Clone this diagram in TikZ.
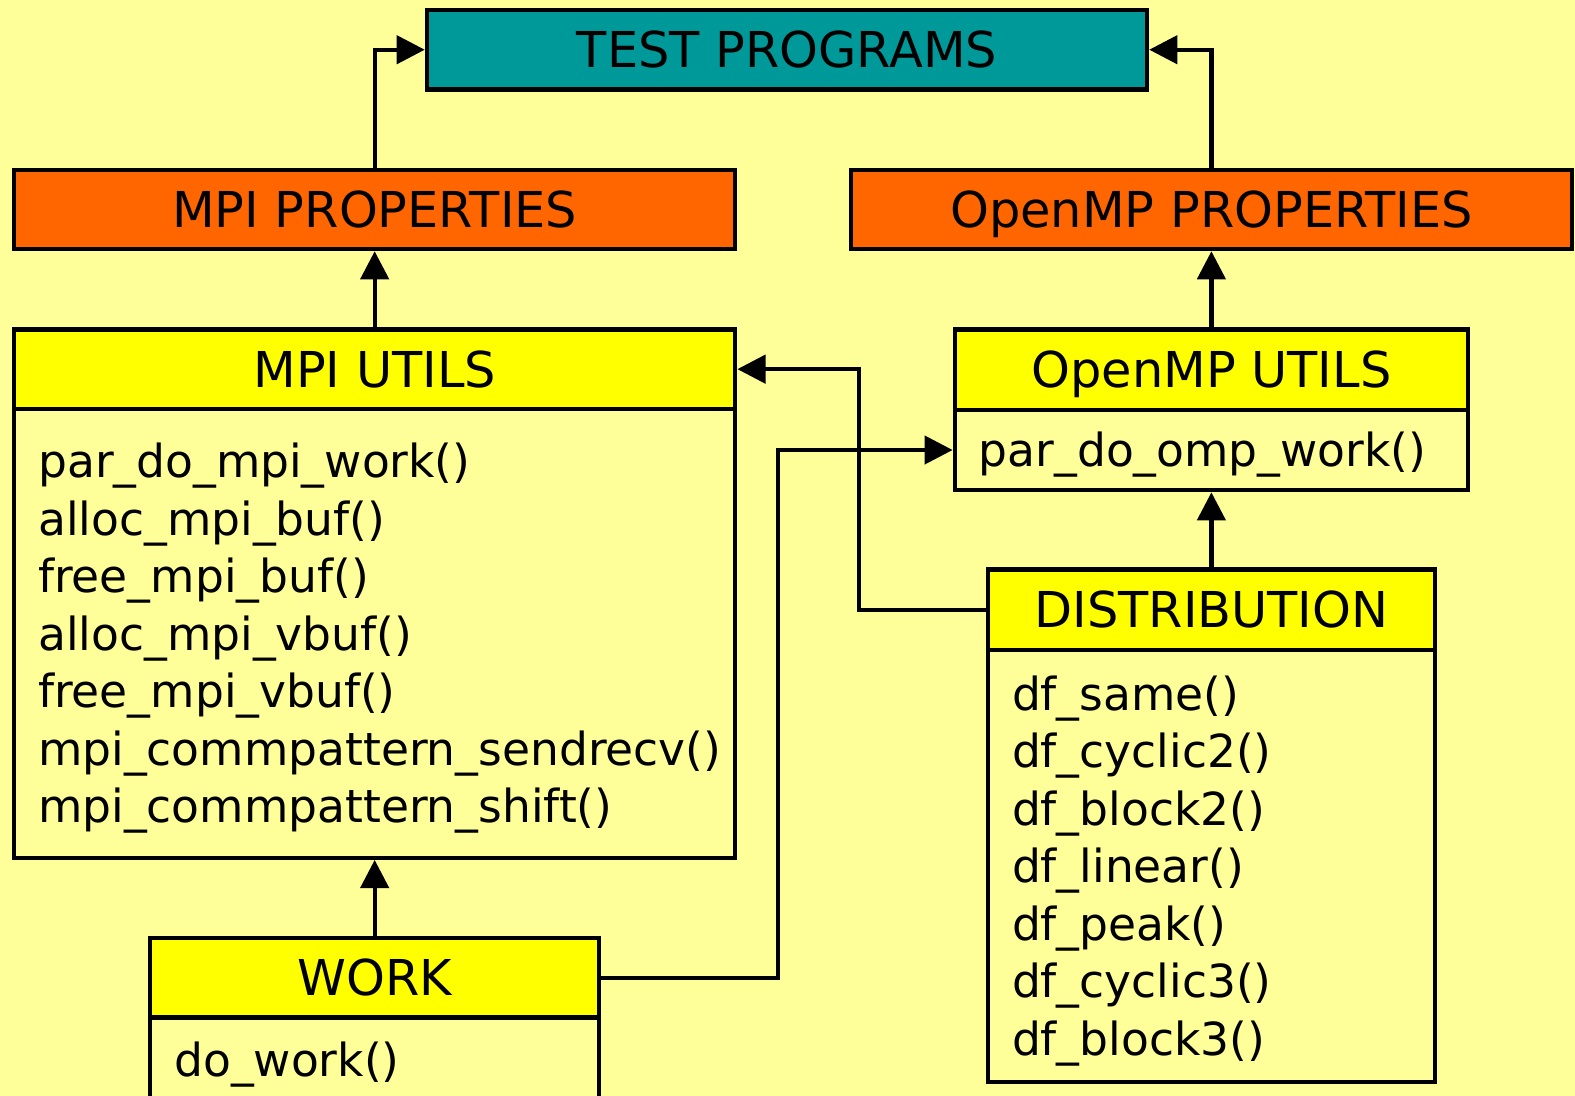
\documentclass[tikz,border=0pt]{standalone}
\usepackage{fontspec}
\setmainfont{DejaVu Sans}
\usetikzlibrary{positioning,arrows.meta}
\definecolor{bgyel}{HTML}{FFFF99}
\definecolor{hdyel}{HTML}{FFFF00}
\definecolor{teal}{HTML}{009999}
\definecolor{orng}{HTML}{FF6600}
\newcommand{\topgap}{\rule{0pt}{12.6pt}}

\begin{document}
\begin{tikzpicture} [line width=1.2pt,
    box/.style={draw=black, rectangle, inner sep=0pt, minimum height=0.79cm, text height=10.2pt, text depth=0pt, font=\fontsize{14}{16}\selectfont},
    listbox/.style={draw=black, rectangle, inner xsep=0.24cm, inner ysep=0pt, align=left, font=\fontsize{12.9}{16.3}\selectfont},
    arr/.style={-{Triangle[length=0.28cm,width=0.28cm]}}]
            \fill[bgyel] (0,0) rectangle (15.68,-10.91);
            \useasboundingbox (0,0) rectangle (15.68,-10.91);

            % top row
            \node[box, fill=teal, minimum width=7.17cm] (test) at (7.835,-0.495) {TEST PROGRAMS};
            \node[box, fill=orng, minimum width=7.18cm] (mpip) at (3.73,-2.085) {MPI PROPERTIES};
            \node[box, fill=orng, minimum width=7.18cm] (ompp) at (12.06,-2.085) {OpenMP PROPERTIES};

            % utils
            \node[box, fill=hdyel, minimum width=7.18cm] (mpiu) at (3.73,-3.675) {MPI UTILS};
            \node[listbox, text width=6.70cm, minimum height=4.47cm, below=-1.2pt of mpiu] (mpib) {\topgap par\_do\_mpi\_work()\\ alloc\_mpi\_buf()\\ free\_mpi\_buf()\\ alloc\_mpi\_vbuf()\\ free\_mpi\_vbuf()\\ mpi\_commpattern\_sendrecv()\\ mpi\_commpattern\_shift()};
            \node[box, fill=hdyel, minimum width=5.11cm, minimum height=0.80cm] (ompu) at (12.06,-3.68) {OpenMP UTILS};
            \node[listbox, text width=4.63cm, minimum height=0.80cm, below=-1.2pt of ompu] (ompb) {\topgap par\_do\_omp\_work()};

            % distribution and work
            \node[box, fill=hdyel, minimum width=4.45cm, minimum height=0.80cm] (dist) at (12.06,-6.07) {DISTRIBUTION};
            \node[listbox, text width=3.97cm, minimum height=4.30cm, below=-1.2pt of dist] (distb) {\topgap df\_same()\\ df\_cyclic2()\\ df\_block2()\\ df\_linear()\\ df\_peak()\\ df\_cyclic3()\\ df\_block3()};
            \node[box, fill=hdyel, minimum width=4.47cm] (work) at (3.73,-9.735) {WORK};
            \node[listbox, text width=3.99cm, minimum height=0.93cm, below=-1.2pt of work] (workb) {do\_work()};

            % connectors
            \draw[arr] (mpip.north) |- (test.west); \draw[arr] (ompp.north) |- (test.east);
            \draw[arr] (mpiu.north) -- (mpip.south); \draw[arr] (ompu.north) -- (ompp.south);
            \draw[arr] (dist.north) -- (ompb.south); \draw[arr] (work.north) -- (mpib.south);
            \draw[arr] (dist.west) -- ++(-1.26,0) |- (mpiu.east);
            \draw[arr] (work.east) -- ++(1.76,0) |- (ompb.west);
        \end{tikzpicture}
\end{document}
